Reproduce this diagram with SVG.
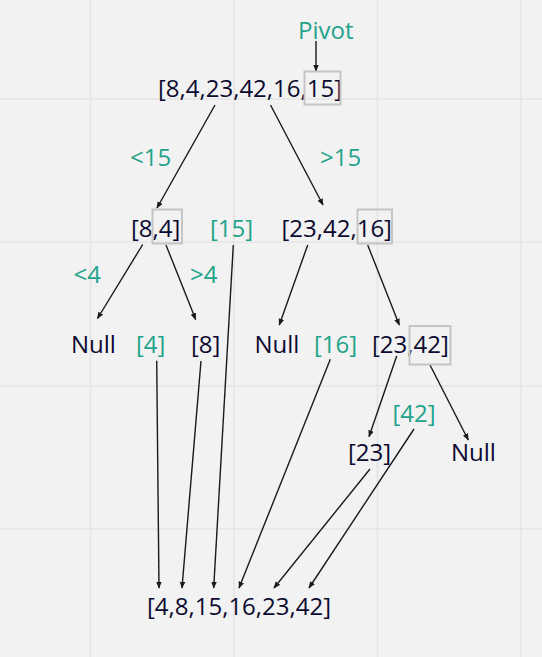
<svg xmlns="http://www.w3.org/2000/svg" width="542" height="657" viewBox="0 0 542 657">
<defs>
<marker id="ah" viewBox="0 0 10 10" refX="9" refY="5" markerWidth="7" markerHeight="7" markerUnits="userSpaceOnUse" orient="auto">
<path d="M0,1 L10,5 L0,9 Z" fill="#1a1a1a"/>
</marker>
<style>
.t{font-family:"Open Sans","Noto Sans",sans-serif;font-size:24px;fill:#0c0a30}
.g{fill:#1fa38a}
.box{fill:none;stroke:#c4c4c4;stroke-width:2}
.grid{stroke:#e4e4e4;stroke-width:1.5}
#connectors line{stroke:#1a1a1a;stroke-width:1.4;marker-end:url(#ah)}
</style>
</defs>
<rect width="542" height="657" fill="#f2f2f2"/>
<g id="grid">
<line class="grid" x1="90.5" y1="0" x2="90.5" y2="657"/>
<line class="grid" x1="234" y1="0" x2="234" y2="657"/>
<line class="grid" x1="377.5" y1="0" x2="377.5" y2="657"/>
<line class="grid" x1="521" y1="0" x2="521" y2="657"/>
<line class="grid" x1="0" y1="99" x2="542" y2="99"/>
<line class="grid" x1="0" y1="242" x2="542" y2="242"/>
<line class="grid" x1="0" y1="386" x2="542" y2="386"/>
<line class="grid" x1="0" y1="529" x2="542" y2="529"/>
</g>
<g id="connectors">
<line x1="316" y1="41" x2="316" y2="71"/>
<line x1="215" y1="105" x2="157" y2="208"/>
<line x1="270.5" y1="105" x2="323" y2="205"/>
<line x1="142.7" y1="244.5" x2="97.5" y2="318.5"/>
<line x1="166" y1="245" x2="195.7" y2="319.5"/>
<line x1="307.7" y1="245" x2="279.3" y2="325"/>
<line x1="367.7" y1="245" x2="399.3" y2="325"/>
<line x1="396.7" y1="356" x2="369" y2="436.7"/>
<line x1="430" y1="365" x2="468.3" y2="440"/>
<line x1="156.7" y1="360.7" x2="159" y2="588"/>
<line x1="201" y1="361" x2="182" y2="588"/>
<line x1="233.3" y1="245" x2="213.7" y2="588"/>
<line x1="330.3" y1="359.3" x2="239" y2="588"/>
<line x1="370" y1="469" x2="274" y2="588"/>
<line x1="414" y1="429" x2="309" y2="588"/>
</g>
<g id="pivot"><text class="t g" x="298" y="38.5">Pivot</text></g>
<g id="root">
<text class="t" x="158" y="97">[8,4,23,42,16,15]</text>
<rect class="box" x="304.5" y="71.5" width="36" height="33"/>
</g>
<g id="lt15"><text class="t g" x="130" y="165.5">&lt;15</text></g>
<g id="gt15"><text class="t g" x="320" y="165.5">&gt;15</text></g>
<g id="n84">
<text class="t" x="131" y="236.7">[8,4]</text>
<rect class="box" x="152.5" y="209.5" width="29.5" height="34"/>
</g>
<g id="n15"><text class="t g" x="210" y="236.7">[15]</text></g>
<g id="n234216">
<text class="t" x="281.5" y="236.7">[23,42,16]</text>
<rect class="box" x="357.5" y="209.5" width="34.5" height="34"/>
</g>
<g id="lt4"><text class="t g" x="73.5" y="282.8">&lt;4</text></g>
<g id="gt4"><text class="t g" x="190" y="282.8">&gt;4</text></g>
<g id="null1"><text class="t" x="71" y="352.7">Null</text></g>
<g id="n4"><text class="t g" x="136" y="352.7">[4]</text></g>
<g id="n8"><text class="t" x="191" y="352.7">[8]</text></g>
<g id="null2"><text class="t" x="254.5" y="352.7">Null</text></g>
<g id="n16"><text class="t g" x="314" y="352.7">[16]</text></g>
<g id="n2342">
<text class="t" x="372" y="352.7">[23,42]</text>
<rect class="box" x="409.5" y="326" width="41" height="38.5"/>
</g>
<g id="n42"><text class="t g" x="392.5" y="422">[42]</text></g>
<g id="n23"><text class="t" x="348" y="460.8">[23]</text></g>
<g id="null3"><text class="t" x="451" y="460.8">Null</text></g>
<g id="result"><text class="t" x="147" y="615">[4,8,15,16,23,42]</text></g>
</svg>
